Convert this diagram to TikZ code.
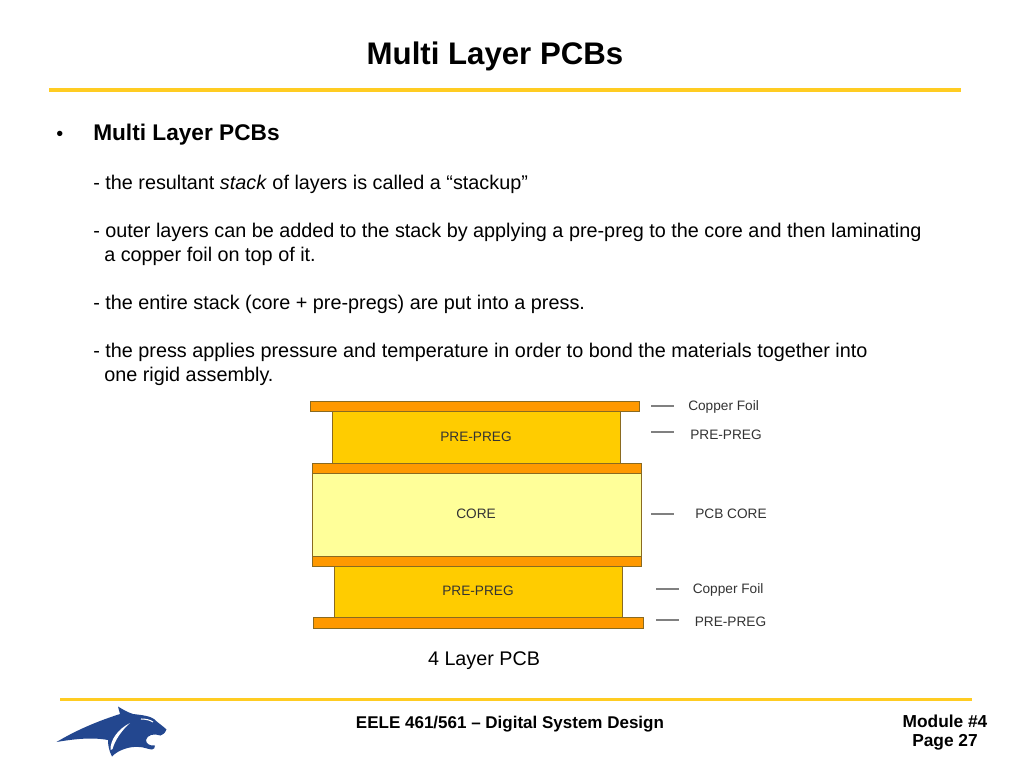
\documentclass[tikz,border=0pt]{standalone}
\usepackage{fontspec}
\setmainfont{Liberation Sans}
\definecolor{rule}{HTML}{FFCC22}
\definecolor{foil}{HTML}{FF9900}
\definecolor{prepreg}{HTML}{FFCC00}
\definecolor{corefill}{HTML}{FFFF99}
\definecolor{edge}{HTML}{8A6A20}
\definecolor{tick}{HTML}{808080}
\definecolor{lab}{HTML}{333333}
\definecolor{cat}{HTML}{23478F}
\newcommand{\fs}[1]{\fontsize{#1}{#1}\selectfont}
\tikzset{
  headrule/.style={draw=rule,line width=2.4pt},
  foillayer/.style={draw=edge,fill=foil,line width=.6pt},
  preglayer/.style={draw=edge,fill=prepreg,line width=.6pt},
  corelayer/.style={draw=edge,fill=corefill,line width=.6pt},
  ticka/.style={draw=tick,line width=.8pt},
  bodytxt/.style={anchor=base west,inner sep=0,font=\fs{14.86}},
  lay/.style={anchor=center,inner sep=0,text=lab,font=\fs{10.25}},
  foot/.style={anchor=center,inner sep=0,align=center,font=\bfseries\fs{12.75}}
}
\begin{document}
\begin{tikzpicture}[x=0.75pt,y=-0.75pt]
\useasboundingbox (0,0) rectangle (1024,768);
\fill[white] (0,0) rectangle (1024,768);
\node[anchor=center,inner sep=0,font=\bfseries\fs{23.4}] (title) at (495,56.5) {Multi Layer PCBs};
\draw[headrule] (49,90) -- (961,90);
\node[bodytxt] (bullet) at (56,140) {•};
\node[bodytxt,font=\bfseries\fs{15}] (head) at (93,140.5) {\fs{17}Multi Layer PCBs};
\node[bodytxt] (l1) at (93,189) {- the resultant \textit{stack} of layers is called a “stackup”};
\node[bodytxt] (l2) at (93,237) {- outer layers can be added to the stack by applying a pre-preg to the core and then laminating};
\node[bodytxt] (l3) at (104,261) {a copper foil on top of it.};
\node[bodytxt] (l4) at (93,309) {- the entire stack (core + pre-pregs) are put into a press.};
\node[bodytxt] (l5) at (93,357) {- the press applies pressure and temperature in order to bond the materials together into};
\node[bodytxt] (l6) at (104,381) {one rigid assembly.};
% stack
\draw[preglayer] (332,411) rectangle (620,463);
\draw[preglayer] (334,566) rectangle (622,618);
\draw[corelayer] (312,473) rectangle (641,556);
\draw[foillayer] (310,401) rectangle (639.5,411.5);
\draw[foillayer] (312,463) rectangle (641,473);
\draw[foillayer] (312,556) rectangle (641,566);
\draw[foillayer] (313.5,617.5) rectangle (643,628);
\node[lay] (p1) at (476,436.5) {PRE-PREG};
\node[lay] (core) at (476,513.5) {CORE};
\node[lay] (p2) at (478,591) {PRE-PREG};
\coordinate (t1a) at (651,406); \coordinate (t1b) at (674,406);
\coordinate (t2a) at (651,432); \coordinate (t2b) at (674,432);
\coordinate (t3a) at (651,514); \coordinate (t3b) at (674,514);
\coordinate (t4a) at (656,589); \coordinate (t4b) at (679,589);
\coordinate (t5a) at (656,620); \coordinate (t5b) at (679,620);
\draw[ticka] (t1a) -- (t1b);
\draw[ticka] (t2a) -- (t2b);
\draw[ticka] (t3a) -- (t3b);
\draw[ticka] (t4a) -- (t4b);
\draw[ticka] (t5a) -- (t5b);
\node[lay,anchor=west] (r1) at (688,407) {Copper Foil};
\node[lay,anchor=west] (r2) at (690,434.5) {PRE-PREG};
\node[lay,anchor=west] (r3) at (695,514) {PCB CORE};
\node[lay,anchor=west] (r4) at (692.5,590) {Copper Foil};
\node[lay,anchor=west] (r5) at (694.5,621.5) {PRE-PREG};
\node[anchor=center,inner sep=0,font=\fs{14.8}] (cap) at (484,661) {4 Layer PCB};
% footer
\draw[headrule] (60,699.5) -- (972,699.5);
\node[foot] (course) at (510,724) {EELE 461/561 – Digital System Design};
\node[foot,font=\bfseries\fs{13}] (mod) at (945,721) {Module \#4};
\node[foot,font=\bfseries\fs{13}] (pg) at (945,742) {Page 27};
% logo
\fill[cat] (56.5,742) .. controls (75,731) and (95,722) .. (120,714)
  -- (118,706.5) .. controls (122,709) and (127,712) .. (133,714)
  .. controls (142,715) and (150,716) .. (154,719)
  .. controls (158,723) and (163,726) .. (166.5,729.5)
  .. controls (165,733) and (163,735) .. (160.5,735.5)
  .. controls (154,733) and (147,735) .. (146,740)
  .. controls (146,744) and (150,746) .. (155,745.5)
  .. controls (155,748) and (154,749) .. (152,749.5)
  .. controls (147,749) and (144,747) .. (139,747)
  .. controls (130,746) and (118,750) .. (112,756.5)
  .. controls (109,751) and (108,745) .. (108,740)
  .. controls (92,737) and (74,739) .. (56.5,742) -- cycle;
\fill[white] (110.5,750) .. controls (110,740) and (118,729) .. (130,723)
  .. controls (122,730) and (115,740) .. (112.5,749) -- cycle;
\draw[white,line width=.8pt] (141,719) .. controls (146,719) and (150,720) .. (153,722);
\end{tikzpicture}
\end{document}
